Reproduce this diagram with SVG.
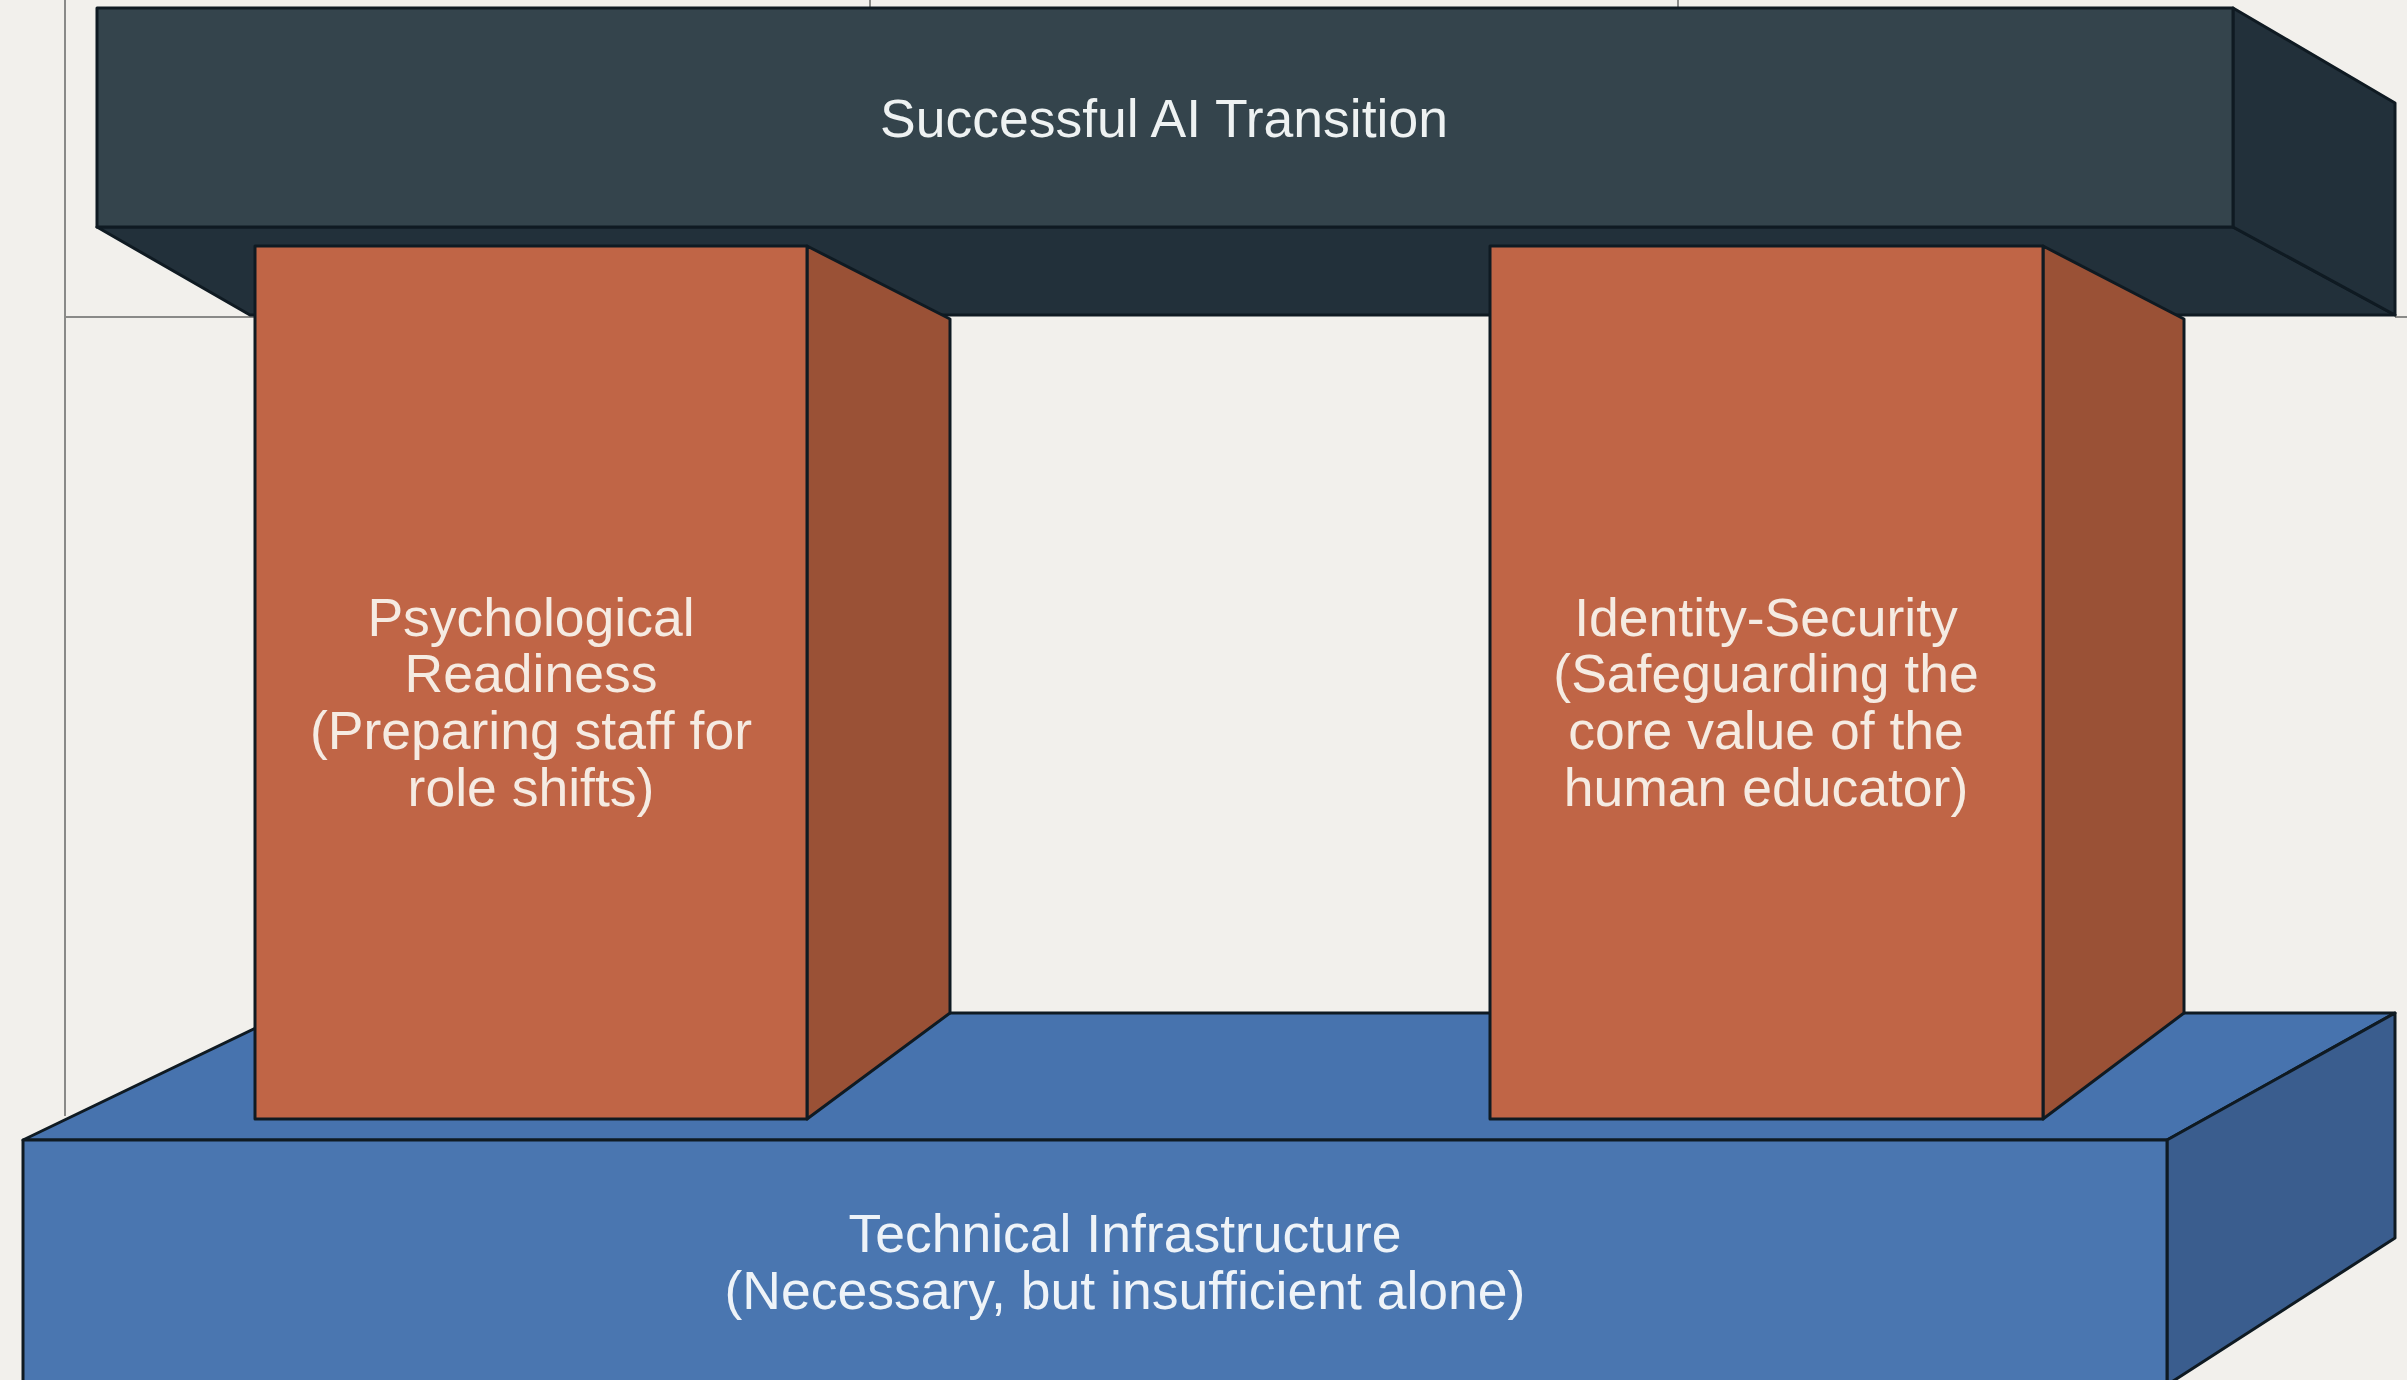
<svg xmlns="http://www.w3.org/2000/svg" width="2407" height="1380" viewBox="0 0 2407 1380">
<style>
.grid{stroke:#8a8a88;stroke-width:2;fill:none}
.edge{stroke:#0f1a22;stroke-width:3;stroke-linejoin:round}
.lbl{font-family:"Liberation Sans",Arial,sans-serif;font-size:53.5px;text-anchor:middle;dominant-baseline:central}
.beam-front{fill:#34444c}
.beam-dark{fill:#22303a}
.pil-front{fill:#c06546}
.pil-side{fill:#9a5136}
.base-front{fill:#4a76b0}
.base-top{fill:#4773ae}
.base-side{fill:#3a5d8e}
</style>
<rect width="2407" height="1380" fill="#f2f0ec"/>
<g id="grid">
<line class="grid" x1="65" y1="0" x2="65" y2="1116"/>
<line class="grid" x1="65" y1="317" x2="255" y2="317"/>
<line class="grid" x1="2395" y1="317" x2="2407" y2="317"/>
<line class="grid" x1="870" y1="0" x2="870" y2="8"/>
<line class="grid" x1="1678" y1="0" x2="1678" y2="8"/>
</g>
<g id="base">
<polygon class="base-top edge" points="23,1140 287,1013 2395,1013 2167,1140"/>
<polygon class="base-side edge" points="2167,1140 2395,1013 2395,1238 2167,1385"/>
<rect class="base-front edge" x="23" y="1140" width="2144" height="250"/>
<text class="lbl" fill="#eef3f8" x="1125" y="1233">Technical Infrastructure</text>
<text class="lbl" fill="#eef3f8" x="1125" y="1290">(Necessary, but insufficient alone)</text>
</g>
<g id="beam">
<polygon class="beam-dark edge" points="97,227 2233,227 2395,315 250,315"/>
<polygon class="beam-dark edge" points="2233,8 2395,103 2395,315 2233,227"/>
<rect class="beam-front edge" x="97" y="8" width="2136" height="219"/>
<text class="lbl" fill="#eef2f2" x="1164" y="118">Successful AI Transition</text>
</g>
<g id="pillar-left">
<polygon class="pil-side edge" points="807,246 950,319 950,1013 807,1119"/>
<rect class="pil-front edge" x="255" y="246" width="552" height="873"/>
<text class="lbl" fill="#f5ebe2" x="531" y="617">Psychological</text>
<text class="lbl" fill="#f5ebe2" x="531" y="673">Readiness</text>
<text class="lbl" fill="#f5ebe2" x="531" y="730">(Preparing staff for</text>
<text class="lbl" fill="#f5ebe2" x="531" y="787">role shifts)</text>
</g>
<g id="pillar-right">
<polygon class="pil-side edge" points="2043,246 2184,319 2184,1013 2043,1119"/>
<rect class="pil-front edge" x="1490" y="246" width="553" height="873"/>
<text class="lbl" fill="#f5ebe2" x="1766" y="617">Identity-Security</text>
<text class="lbl" fill="#f5ebe2" x="1766" y="673">(Safeguarding the</text>
<text class="lbl" fill="#f5ebe2" x="1766" y="730">core value of the</text>
<text class="lbl" fill="#f5ebe2" x="1766" y="787">human educator)</text>
</g>
<g id="connectors"></g>
</svg>
